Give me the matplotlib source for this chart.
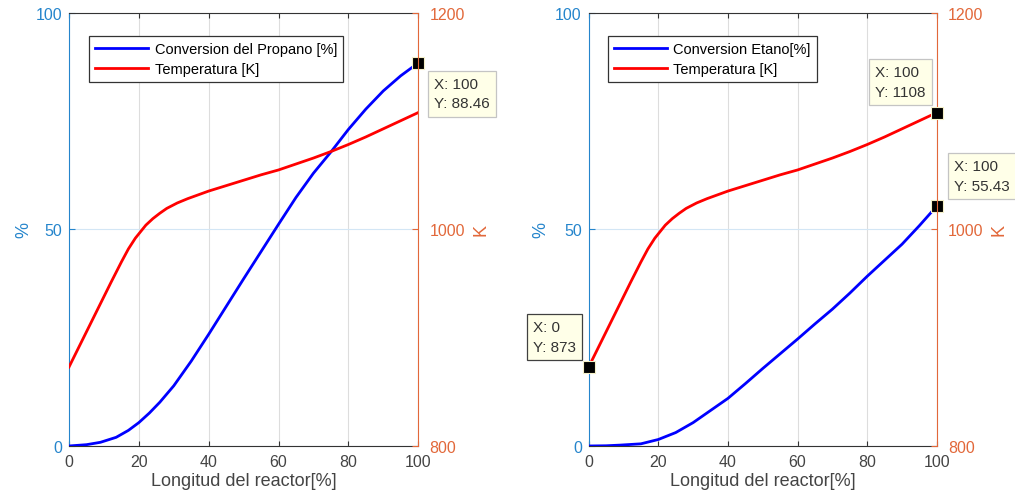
import matplotlib
matplotlib.use("Agg")
import matplotlib.pyplot as plt
from matplotlib.lines import Line2D

plt.rcParams['font.family'] = ['Liberation Sans', 'DejaVu Sans']

# --- perfil de temperatura (igual en ambos reactores) ---
x_temp = [0, 4, 8, 12, 15, 17, 19, 20.5, 22, 24, 26, 28, 31, 34, 40, 45, 50,
          55, 60, 65, 70, 75, 80, 85, 90, 95, 100]
temp_k = [873, 899, 925, 951, 970, 982, 992, 998, 1004, 1010, 1015, 1019.5,
          1024.5, 1028.5, 1035.5, 1040.5, 1045.5, 1050.5, 1055, 1060.5, 1066,
          1072, 1078.5, 1085.5, 1093, 1100.5, 1108]

# --- conversion del propano ---
x_prop = [0, 5, 9, 13.5, 17, 20, 23, 26, 30, 35, 40, 45, 50, 55, 60, 65, 70,
          75, 80, 85, 90, 95, 100]
conv_prop = [0, 0.3, 0.85, 2.0, 3.6, 5.4, 7.6, 10.1, 13.9, 19.6, 25.8, 32.2,
             38.6, 44.9, 51.2, 57.4, 63.0, 67.9, 73.1, 77.8, 82.0, 85.5, 88.46]

# --- conversion del etano ---
x_etan = [0, 5, 9, 15, 20, 25, 30, 35, 40, 45, 50, 55, 60, 65, 70, 75, 80,
          85, 90, 95, 100]
conv_etan = [0, 0.05, 0.2, 0.5, 1.5, 3.1, 5.4, 8.2, 11.0, 14.4, 17.9, 21.3,
             24.7, 28.2, 31.6, 35.3, 39.2, 42.9, 46.6, 50.9, 55.43]

x_ticks = [0, 20, 40, 60, 80, 100]
pct_ticks = [0, 50, 100]
k_ticks = [800, 1000, 1200]

C_LEFT = '#2585cc'
C_RIGHT = '#e2683a'
C_AX = '#333333'
TIP_FACE = '#ffffe8'

fig = plt.figure(figsize=(10.15, 5.02), dpi=100)
ax_a = fig.add_axes([0.068, 0.1096, 0.344, 0.8625])
ax_b = fig.add_axes([0.580, 0.1096, 0.343, 0.8625])


def setup_axes(ax, x_conv, y_conv, conv_label, leg_x, k_label_x, pct_label_x):
    ax.set_xlim(0, 100)
    ax.set_ylim(0, 100)
    ax.set_xticks(x_ticks)
    ax.set_yticks(pct_ticks)
    ax.grid(axis='x', color='#dddddd', lw=0.8)
    ax.grid(axis='y', color='#d3e6f5', lw=0.8)
    ax.set_axisbelow(True)
    ax.tick_params(axis='x', direction='in', top=True, length=3.5,
                   colors=C_AX, labelcolor='#444444', labelsize=11.5, pad=6)
    ax.tick_params(axis='y', direction='in', length=4, colors=C_LEFT,
                   labelsize=11.5, pad=5)
    ax.spines['left'].set_color(C_LEFT)
    ax.spines['top'].set_color(C_AX)
    ax.spines['bottom'].set_color(C_AX)
    ax.spines['right'].set_visible(False)
    ax.set_xlabel('Longitud del reactor[%]', fontsize=13, color='#444444',
                  labelpad=2)
    ax.set_ylabel('%', fontsize=13, color=C_LEFT)
    ax.yaxis.set_label_coords(pct_label_x, 0.5)

    ax.plot(x_conv, y_conv, color='#0000ff', lw=2, zorder=3)

    tw = ax.twinx()
    tw.set_ylim(800, 1200)
    tw.set_yticks(k_ticks)
    tw.plot(x_temp, temp_k, color='#ff0000', lw=2, zorder=3)
    for s in ['left', 'top', 'bottom']:
        tw.spines[s].set_visible(False)
    tw.spines['right'].set_color(C_RIGHT)
    tw.tick_params(axis='y', direction='in', length=4, colors=C_RIGHT,
                   labelsize=11.5, pad=8)
    tw.set_ylabel('K', fontsize=13, color=C_RIGHT, rotation=90)
    tw.yaxis.set_label_coords(k_label_x, 0.5)

    handles = [Line2D([], [], color='#0000ff', lw=2),
               Line2D([], [], color='#ff0000', lw=2)]
    leg = tw.legend(handles, [conv_label, 'Temperatura [K]'], loc='upper left',
                    bbox_to_anchor=(leg_x, 0.948), borderaxespad=0,
                    fontsize=10.5, handlelength=3.6, handletextpad=0.45,
                    labelspacing=0.4, borderpad=0.45, fancybox=False,
                    framealpha=1, edgecolor='#333333')
    leg.get_frame().set_linewidth(0.9)
    return tw


def data_tip(ax, x, y, ytxt, dx, dy, ha, edge='#c4c4c4'):
    ax.plot([x], [y], 's', ms=8.5, mfc='black', mec='#f5f0c8', mew=0.8,
            zorder=6, clip_on=False)
    ax.annotate(f'X: {x}\nY: {ytxt}', xy=(x, y), xycoords='data',
                xytext=(dx, dy), textcoords='offset pixels', ha=ha,
                va='top' if dy < 0 else 'bottom', multialignment='left',
                fontsize=11, color='#333333', linespacing=1.5,
                annotation_clip=False, zorder=7,
                bbox=dict(boxstyle='square,pad=0.4', fc=TIP_FACE, ec=edge,
                          lw=0.9))


tw_a = setup_axes(ax_a, x_prop, conv_prop, 'Conversion del Propano [%]',
                  0.057, 1.155, -0.104)
tw_b = setup_axes(ax_b, x_etan, conv_etan, 'Conversion Etano[%]',
                  0.055, 1.155, -0.114)

# marcadores de datos
data_tip(ax_a, x_prop[-1], conv_prop[-1], '88.46', 16, -14, 'left')
data_tip(tw_b, x_temp[-1], temp_k[-1], '1108', -11, 14, 'right')
data_tip(ax_b, x_etan[-1], conv_etan[-1], '55.43', 17, 13, 'left')
data_tip(tw_b, x_temp[0], temp_k[0], '873', -13, 13, 'right', edge='#404040')

fig.savefig('out.png', dpi=100)
